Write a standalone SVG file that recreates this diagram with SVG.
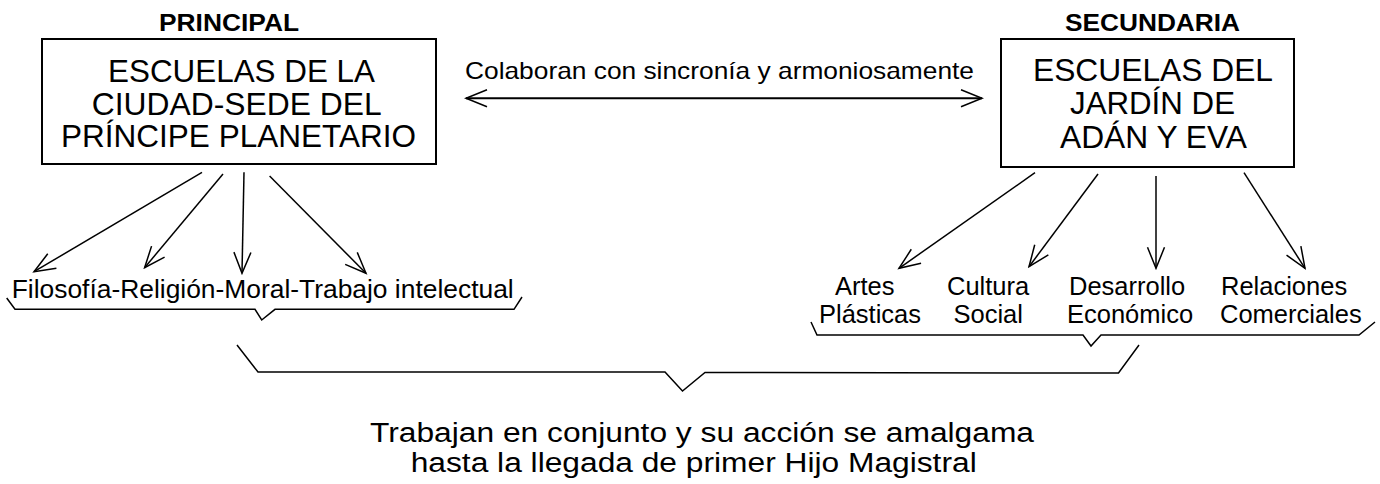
<svg xmlns="http://www.w3.org/2000/svg" width="1380" height="484" viewBox="0 0 1380 484">
<style>
text{font-family:"Liberation Sans",Arial,sans-serif;fill:#000}
.hd{font-size:24px;font-weight:bold;text-anchor:middle}
.bx{font-size:30.5px;text-anchor:middle}
.lb{font-size:25.5px}
.ft{font-size:27px;text-anchor:middle}
.box{fill:#fff;stroke:#000;stroke-width:2}
.ar{stroke:#000;stroke-width:1.5;fill:none;marker-end:url(#ah)}
.br{stroke:#000;stroke-width:1.5;fill:none}
</style>
<defs>
<marker id="ah" markerUnits="userSpaceOnUse" viewBox="-24 -10 26 20" refX="0" refY="0" markerWidth="26" markerHeight="20" orient="auto-start-reverse">
<path d="M-21,-8.5 L0,0 L-21,8.5" fill="none" stroke="#000" stroke-width="1.5"/>
</marker>
</defs>
<g id="principal">
<text class="hd" x="229" y="30.7" textLength="140" lengthAdjust="spacingAndGlyphs">PRINCIPAL</text>
<rect class="box" x="42" y="39" width="394" height="125"/>
<text class="bx" x="241.5" y="82" textLength="267" lengthAdjust="spacingAndGlyphs">ESCUELAS DE LA</text>
<text class="bx" x="236.7" y="115" textLength="290" lengthAdjust="spacingAndGlyphs">CIUDAD-SEDE DEL</text>
<text class="bx" x="238.5" y="147" textLength="355" lengthAdjust="spacingAndGlyphs">PRÍNCIPE PLANETARIO</text>
</g>
<g id="secundaria">
<text class="hd" x="1152.5" y="30.7" textLength="175" lengthAdjust="spacingAndGlyphs">SECUNDARIA</text>
<rect class="box" x="1001" y="39" width="293" height="128"/>
<text class="bx" x="1153" y="81" textLength="240" lengthAdjust="spacingAndGlyphs">ESCUELAS DEL</text>
<text class="bx" x="1152.5" y="114" textLength="165" lengthAdjust="spacingAndGlyphs">JARDÍN DE</text>
<text class="bx" x="1153.5" y="148" textLength="187" lengthAdjust="spacingAndGlyphs">ADÁN Y EVA</text>
</g>
<g id="colabora">
<text class="lb" x="465" y="79.3" textLength="509" lengthAdjust="spacingAndGlyphs" style="font-size:24px">Colaboran con sincronía y armoniosamente</text>
</g>
<g id="principal-temas">
<text class="lb" x="11.7" y="297.5" textLength="502" lengthAdjust="spacingAndGlyphs" style="font-size:25px">Filosofía-Religión-Moral-Trabajo intelectual</text>
</g>
<g id="artes"><text class="lb" x="835" y="295">Artes</text><text class="lb" x="819" y="323.3">Plásticas</text></g>
<g id="cultura"><text class="lb" x="947" y="295">Cultura</text><text class="lb" x="953.5" y="323.3">Social</text></g>
<g id="desarrollo"><text class="lb" x="1069" y="295">Desarrollo</text><text class="lb" x="1067" y="323.3">Económico</text></g>
<g id="relaciones"><text class="lb" x="1221" y="295">Relaciones</text><text class="lb" x="1220" y="323.3">Comerciales</text></g>
<g id="conclusion">
<text class="ft" x="702" y="441.5" textLength="664" lengthAdjust="spacingAndGlyphs">Trabajan en conjunto y su acción se amalgama</text>
<text class="ft" x="693.7" y="472" textLength="566" lengthAdjust="spacingAndGlyphs">hasta la llegada de primer Hijo Magistral</text>
</g>
<g id="connectors">
<line x1="466" y1="98.3" x2="982" y2="98.3" stroke="#000" stroke-width="2" marker-start="url(#ah)" marker-end="url(#ah)"/>
<line class="ar" x1="202" y1="172.3" x2="34" y2="271.7"/>
<line class="ar" x1="223" y1="174" x2="144.6" y2="267.7"/>
<line class="ar" x1="244" y1="172.3" x2="242" y2="273.3"/>
<line class="ar" x1="269.6" y1="176" x2="366" y2="273.3"/>
<line class="ar" x1="1035" y1="172.7" x2="899" y2="268.3"/>
<line class="ar" x1="1098" y1="174" x2="1029" y2="266.7"/>
<line class="ar" x1="1156" y1="176" x2="1156" y2="268.3"/>
<line class="ar" x1="1244" y1="172.7" x2="1305" y2="268.3"/>
<path class="br" d="M6.7,298 L15,309.3 L255,309.3 L261.7,320 L275,309.3 L514,309.3 L522,297"/>
<path class="br" d="M811,322 L817,335 L1083,335 L1091,346 L1101,335 L1359,335 L1375,322"/>
<path class="br" d="M237,345 L258,372 L665,372 L682.5,391 L705,372.5 L1118.5,373 L1139,345"/>
</g>
</svg>
